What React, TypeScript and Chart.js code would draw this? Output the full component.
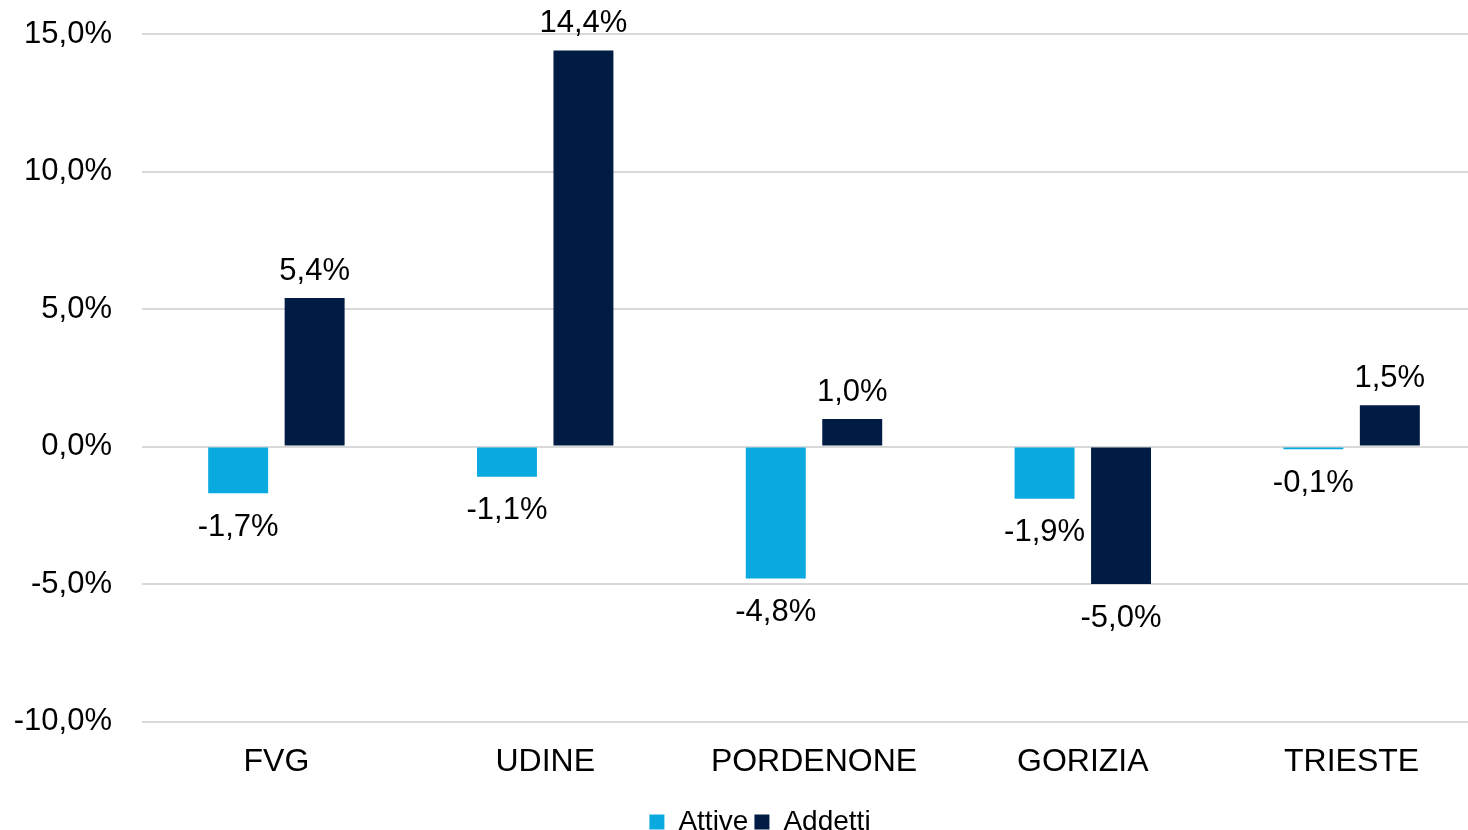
import React, { useEffect, useRef } from "react";
import { Chart, registerables } from "chart.js";

Chart.register(...registerables);

const categories = ["FVG", "UDINE", "PORDENONE", "GORIZIA", "TRIESTE"];
const attive = [-1.7, -1.1, -4.8, -1.9, -0.1];
const addetti = [5.4, 14.4, 1.0, -5.0, 1.5];
const seriesNames = ["Attive", "Addetti"];
const seriesColors = ["#0AAAE0", "#001C44"];

const FONT = "'Liberation Sans', Arial, sans-serif";
const fmt = (v: number) => v.toFixed(1).replace(".", ",") + "%";

const labelPlugin = {
  id: "valueLabels",
  afterLayout(chart: any) {
    if (chart.legend) {
      chart.legend.left += 17;
      chart.legend.right += 17;
    }
  },
  afterDatasetsDraw(chart: any) {
    const ctx = chart.ctx;
    ctx.save();
    ctx.font = `31px ${FONT}`;
    ctx.fillStyle = "#000";
    ctx.textAlign = "center";
    ctx.textBaseline = "middle";
    chart.data.datasets.forEach((ds: any, i: number) => {
      const meta = chart.getDatasetMeta(i);
      meta.data.forEach((bar: any, j: number) => {
        const v = ds.data[j] as number;
        const y = v >= 0 ? bar.y - 27 : bar.y + 34;
        ctx.fillText(fmt(v), bar.x, y);
      });
    });
    ctx.restore();
  },
};

export default function App() {
  const ref = useRef<HTMLCanvasElement>(null);
  useEffect(() => {
    document.body.style.margin = "0";
    document.body.style.overflow = "hidden";
    const chart = new Chart(ref.current!, {
      type: "bar",
      data: {
        labels: categories,
        datasets: [
          { label: seriesNames[0], data: attive, backgroundColor: seriesColors[0] },
          { label: seriesNames[1], data: addetti, backgroundColor: seriesColors[1] },
        ],
      },
      options: {
        responsive: false,
        animation: false,
        devicePixelRatio: 1,
        layout: { padding: { top: 0, left: 0, right: 0, bottom: -16 } },
        datasets: {
          bar: { categoryPercentage: 0.569, barPercentage: 0.784 },
        } as any,
        plugins: {
          legend: {
            position: "bottom",
            labels: {
              font: { family: FONT, size: 28 },
              color: "#000",
              boxWidth: 15,
              boxHeight: 15,
              padding: 6,
            },
          },
          tooltip: { enabled: false },
        },
        scales: {
          x: {
            grid: { display: false, drawTicks: false },
            border: { display: false },
            ticks: { font: { family: FONT, size: 32 }, color: "#000", padding: 21 },
          },
          y: {
            min: -10,
            max: 15,
            grid: { color: "#D9D9D9", lineWidth: 2, drawTicks: false },
            border: { display: false },
            ticks: {
              stepSize: 5,
              font: { family: FONT, size: 31 },
              color: "#000",
              padding: 30,
              callback: (v: any) => fmt(Number(v)),
            },
            afterFit: (scale: any) => {
              scale.width = 142;
              scale.paddingTop = 34;
              scale.paddingBottom = 0;
            },
          },
        },
      },
      plugins: [labelPlugin],
    });
    return () => chart.destroy();
  }, []);
  return (
    <div style={{ position: "fixed", left: 0, top: 0, width: 1468, height: 830, overflow: "hidden", background: "#fff" }}>
      <canvas ref={ref} width={1486} height={830} style={{ display: "block" }} />
    </div>
  );
}
